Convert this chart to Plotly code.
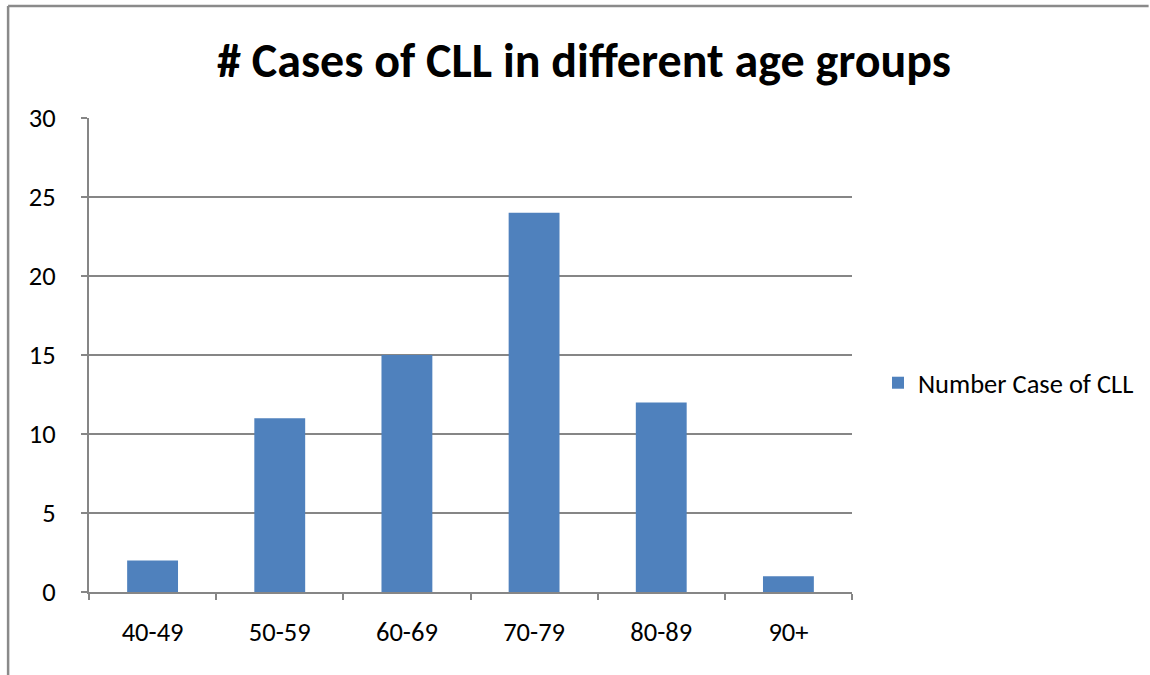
import plotly.graph_objects as go

categories = ["40-49", "50-59", "60-69", "70-79", "80-89", "90+"]
cases = [2, 11, 15, 24, 12, 1]
series_name = "Number Case of CLL"
title_text = "# Cases of CLL in different age groups"

W, H = 1150, 675
L, R, T, B = 89, 853, 118, 592
pw, ph = R - L, B - T

def px(x):
    return (x - L) / pw

def py(y):
    return (B - y) / ph

font_family = "Carlito, Calibri, Lato, 'Open Sans', sans-serif"
grid = "#868686"
border = "#8a8a8a"
tick_size = 26.5

fig = go.Figure()
fig.add_trace(go.Bar(x=categories, y=cases, name=series_name,
                     marker=dict(color="#4F81BD", line=dict(width=0)),
                     showlegend=True))

fig.update_layout(
    width=W, height=H,
    margin=dict(l=L, r=W - R, t=T, b=H - B, pad=0),
    paper_bgcolor="white", plot_bgcolor="white",
    bargap=0.6,
    font=dict(family=font_family, size=tick_size, color="black"),
    title=dict(text="<b>" + title_text + "</b>", x=584 / W, xref="container",
               xanchor="center", y=1 - 60 / H, yref="container", yanchor="middle",
               font=dict(size=48, family=font_family, color="black")),
    showlegend=True,
    legend=dict(x=px(878), y=py(383), xanchor="left", yanchor="middle",
                font=dict(size=tick_size), bgcolor="rgba(0,0,0,0)", itemwidth=30),
    xaxis=dict(showline=True, linecolor=grid, linewidth=2, ticks="outside",
               tickson="boundaries", ticklen=6, tickcolor=grid, tickwidth=2,
               showgrid=False, ticklabelstandoff=15, tickfont=dict(size=tick_size)),
    yaxis=dict(range=[0, 30], dtick=5, showline=True, linecolor=grid, linewidth=2,
               ticks="outside", ticklen=6, tickcolor=grid, tickwidth=2,
               showgrid=True, gridcolor=grid, gridwidth=1.5, zeroline=False,
               ticklabelstandoff=20, tickfont=dict(size=tick_size)),
    shapes=[
        dict(type="line", xref="paper", yref="paper",
             x0=px(8), x1=px(1150), y0=py(6), y1=py(6),
             line=dict(color=border, width=2.5), layer="above"),
        dict(type="line", xref="paper", yref="paper",
             x0=px(8), x1=px(8), y0=py(6), y1=py(675),
             line=dict(color=border, width=2.5), layer="above"),
    ],
)

fig.write_html("out.html", config={"displayModeBar": False, "displaylogo": False},
               post_script="document.body.style.margin='0';document.body.style.overflow='hidden';document.documentElement.style.overflow='hidden';")
